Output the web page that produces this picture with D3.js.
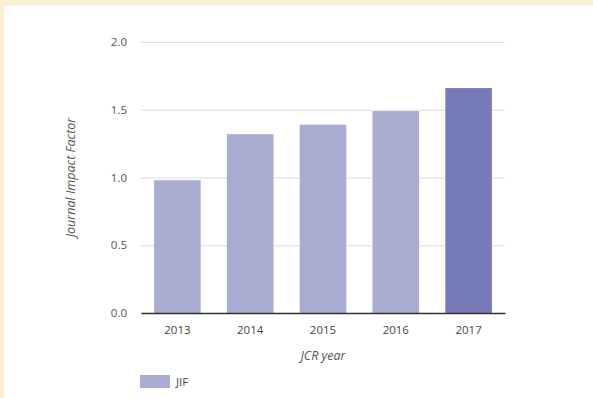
<!DOCTYPE html>
<html>
<head>
<meta charset="utf-8">
<script src="https://cdn.jsdelivr.net/npm/d3@7"></script>
<style>
  html, body { margin: 0; padding: 0; background: #fff; }
  svg { display: block; }
  text { font-family: "Open Sans", Lato, sans-serif; }
</style>
</head>
<body>
<svg id="chart" width="593" height="398"></svg>
<script>
const years = ["2013", "2014", "2015", "2016", "2017"];
const jif = [0.98, 1.32, 1.39, 1.49, 1.66];
const yTicks = [0, 0.5, 1.0, 1.5, 2.0];
const highlightYear = "2017";
const legendLabel = "JIF";
const xTitle = "JCR year";
const yTitle = "Journal Impact Factor";

const svg = d3.select("#chart");
const W = 593, H = 398;

// beige frame (top and left edges)
svg.append("rect").attr("x", 0).attr("y", 0).attr("width", W).attr("height", H).attr("fill", "#fcefd6");
svg.append("rect").attr("x", 4).attr("y", 6).attr("width", W - 4).attr("height", H - 6).attr("fill", "#ffffff");

const m = { left: 141, right: 505, top: 42, bottom: 313 };

const x = d3.scaleBand().domain(years).range([m.left, m.right]).paddingInner(0.36).paddingOuter(0.18);
const y = d3.scaleLinear().domain([0, 2]).range([m.bottom, m.top]);

// gridlines + y tick labels via axis
const yAxis = d3.axisLeft(y).tickValues(yTicks).tickFormat(d3.format(".1f")).tickSize(-(m.right - m.left)).tickPadding(14);
const gy = svg.append("g").attr("transform", `translate(${m.left},0)`).call(yAxis);
gy.select(".domain").remove();
gy.selectAll(".tick line").attr("stroke", "#dcdcdc").attr("stroke-width", 1);
gy.selectAll(".tick text").attr("fill", "#555").style("font-size", "11.5px");

// bars
svg.append("g").selectAll("rect").data(years).join("rect")
  .attr("x", d => x(d))
  .attr("y", (d, i) => y(jif[i]))
  .attr("width", x.bandwidth())
  .attr("height", (d, i) => y(0) - y(jif[i]))
  .attr("fill", d => d === highlightYear ? "#767bb7" : "#a9acd1");

// x axis
const xAxis = d3.axisBottom(x).tickSize(0).tickPadding(13);
const gx = svg.append("g").attr("transform", `translate(0,${m.bottom})`).call(xAxis);
gx.select(".domain").attr("stroke", "#333").attr("stroke-width", 1.3);
gx.selectAll(".tick text").attr("fill", "#444").style("font-size", "11.5px");

// axis titles
svg.append("text").attr("x", (m.left + m.right) / 2).attr("y", 360)
  .attr("text-anchor", "middle").attr("fill", "#555").style("font-size", "12.5px").style("font-style", "italic")
  .text(xTitle);
svg.append("text").attr("transform", `translate(75,${(m.top + m.bottom) / 2}) rotate(-90)`)
  .attr("text-anchor", "middle").attr("fill", "#555").style("font-size", "12.5px").style("font-style", "italic")
  .text(yTitle);

// legend
svg.append("rect").attr("x", 140).attr("y", 375).attr("width", 30).attr("height", 13).attr("fill", "#a9acd1");
svg.append("text").attr("x", 176).attr("y", 386).attr("fill", "#444").style("font-size", "11.5px").text(legendLabel);
</script>
</body>
</html>
